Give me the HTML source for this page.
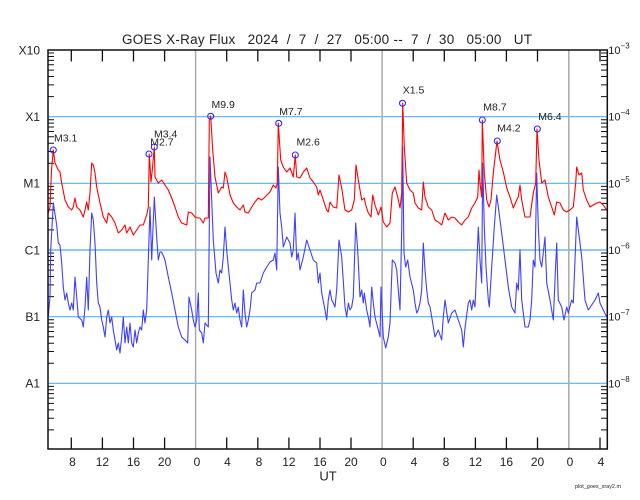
<!DOCTYPE html>
<html><head><meta charset="utf-8"><style>
html,body{margin:0;padding:0;background:#fff;}
svg{display:block;}
text{font-family:"Liberation Sans",sans-serif;fill:#222;}
</style></head><body>
<svg width="640" height="500" viewBox="0 0 640 500" xmlns="http://www.w3.org/2000/svg">
<rect width="640" height="500" fill="#fff"/>
<!-- title -->
<text x="122" y="44" font-size="13.5" xml:space="preserve" textLength="410" lengthAdjust="spacing">GOES X-Ray Flux   2024  /  7  /  27   05:00 --  7  /  30   05:00   UT</text>

<!-- gridlines -->
<g stroke="#55b0ff" stroke-width="1.2">
<line x1="48" y1="116.67" x2="607" y2="116.67"/>
<line x1="48" y1="183.33" x2="607" y2="183.33"/>
<line x1="48" y1="316.67" x2="607" y2="316.67"/>
<line x1="48" y1="383.33" x2="607" y2="383.33"/>
</g>
<line x1="48" y1="250" x2="607" y2="250" stroke="#8ec8ff" stroke-width="2"/>
<!-- day lines -->
<g stroke="#aaa" stroke-width="1.5">
<line x1="195.6" y1="50" x2="195.6" y2="449"/>
<line x1="382.1" y1="50" x2="382.1" y2="449"/>
<line x1="568.8" y1="50" x2="568.8" y2="449"/>
</g>

<!-- hour ticks -->
<path stroke="#111" stroke-width="1.3" fill="none" d="
M71.3 50v11.5M102.4 50v11.5M133.5 50v11.5M164.6 50v11.5M226.7 50v11.5M257.8 50v11.5M288.9 50v11.5M320 50v11.5M351 50v11.5M413.2 50v11.5M444.3 50v11.5M475.4 50v11.5M506.4 50v11.5M537.5 50v11.5M600 50v11.5
M71.3 449v-11.5M102.4 449v-11.5M133.5 449v-11.5M164.6 449v-11.5M226.7 449v-11.5M257.8 449v-11.5M288.9 449v-11.5M320 449v-11.5M351 449v-11.5M413.2 449v-11.5M444.3 449v-11.5M475.4 449v-11.5M506.4 449v-11.5M537.5 449v-11.5M600 449v-11.5"/>

<!-- log ticks left -->
<path stroke="#111" stroke-width="1" fill="none" d="
M48 96.6h6M48 84.86h6M48 76.53h6M48 70.07h6M48 64.79h6M48 60.33h6M48 56.46h6M48 53.05h6
M48 163.26h6M48 151.52h6M48 143.19h6M48 136.73h6M48 131.45h6M48 126.99h6M48 123.12h6M48 119.71h6
M48 229.93h6M48 218.19h6M48 209.86h6M48 203.4h6M48 198.12h6M48 193.66h6M48 189.79h6M48 186.38h6
M48 296.6h6M48 284.86h6M48 276.53h6M48 270.07h6M48 264.79h6M48 260.33h6M48 256.46h6M48 253.05h6
M48 363.26h6M48 351.52h6M48 343.19h6M48 336.73h6M48 331.45h6M48 326.99h6M48 323.12h6M48 319.71h6
M48 429.93h6M48 418.19h6M48 409.86h6M48 403.4h6M48 398.12h6M48 393.66h6M48 389.79h6M48 386.38h6
M607 96.6h-6M607 84.86h-6M607 76.53h-6M607 70.07h-6M607 64.79h-6M607 60.33h-6M607 56.46h-6M607 53.05h-6
M607 163.26h-6M607 151.52h-6M607 143.19h-6M607 136.73h-6M607 131.45h-6M607 126.99h-6M607 123.12h-6M607 119.71h-6
M607 229.93h-6M607 218.19h-6M607 209.86h-6M607 203.4h-6M607 198.12h-6M607 193.66h-6M607 189.79h-6M607 186.38h-6
M607 296.6h-6M607 284.86h-6M607 276.53h-6M607 270.07h-6M607 264.79h-6M607 260.33h-6M607 256.46h-6M607 253.05h-6
M607 363.26h-6M607 351.52h-6M607 343.19h-6M607 336.73h-6M607 331.45h-6M607 326.99h-6M607 323.12h-6M607 319.71h-6
M607 429.93h-6M607 418.19h-6M607 409.86h-6M607 403.4h-6M607 398.12h-6M607 393.66h-6M607 389.79h-6M607 386.38h-6"/>

<!-- blue (short) -->
<polyline fill="none" stroke="#3f3fff" stroke-width="1.1" stroke-linejoin="round" points="
48.3,316 50,297 50.7,250 53.3,203 56.7,225 58.3,243 60,245 61.7,263 63.3,287 65,300 66.7,293 68.3,303 70,310 71.7,303 73.3,310 75,277 76.7,297 78.3,317 81.7,320 83.3,327 85,307 86.7,277 88.3,310 90,250 91.7,213 93.3,220 95,243 96.7,283 98.3,303 100,307 101.7,320 103.3,327 105,337 106.7,317 108.3,310 110,323 111.7,317 113.3,330 115,340 116.7,350 118.3,343 120,353 121.7,337 123.3,317 125,343 126.7,327 128.3,343 130,323 131.7,343 133.3,347 135,330 136.7,343 138.3,333 140,327 141.7,330 143.3,310 145,323 146.7,310 148.3,260 150,207 151.7,260 154.3,197 156.7,237 158.3,260 160,252 161.7,252 165,260 168.3,277 171.7,293 175,310 178.3,327 181.7,337 185,340 187.7,343 189,297 191.7,310 193.3,320 195,327 196.7,320 198.3,293 199.3,330 201.7,333 203.3,343 205,323 208.3,327 210,157 211.7,200 213.3,240 216,273 218.3,283 220,270 221.7,273 223.3,257 225,227 226.7,250 228.3,267 230,283 231.7,300 233.3,310 235,303 236.7,313 238.3,307 240,320 241.7,327 243.3,290 245,313 246.7,327 248.3,320 250,310 251.7,293 255,290 256.7,283 260,283 263.3,273 266.7,267 270,262 273.3,260 275,253 276.7,270 278.3,167 280,213 281.7,227 283.3,247 286.7,237 290,243 291.7,257 293.3,250 295,213 296.7,260 298.3,253 300,270 303.3,257 306.7,240 310,250 313.3,260 316.7,263 318.3,283 320,273 321.7,293 325,310 326.7,320 328.3,300 330,290 331.7,300 333.3,303 335,307 336.7,290 339,240 341.7,257 345,307 346.7,317 348.3,303 350,310 351.7,307 353.3,297 355.7,223 357.7,250 360,297 361.7,290 363.3,303 364.3,293 366.7,310 368.3,317 370,327 371.7,287 373.3,303 375,317 378.3,330 380,337 381,287 383.3,337 385.7,348 388.3,337 390,323 392.3,260 395,263 396.7,270 398.3,290 400,310 401.7,230 402.7,147 404,253 405.7,267 407.7,260 410,277 413.3,290 415,303 416.7,313 418.3,310 420,303 421.7,290 423.3,243 425,270 426.7,290 428.3,303 430,307 431.7,317 435,337 438.3,330 441.7,340 443.3,317 445,300 448.3,323 451.7,313 455,310 458.3,320 461.7,330 463.3,347 465,328 468.3,303 470,300 471.7,310 473.3,300 475,307 476.7,267 478.3,227 480,260 481.7,283 482.7,163 484.3,227 486,267 488.3,300 489.3,307 491.7,267 494.3,227 496.7,195 498.3,207 501.7,233 505,260 508.3,287 511.7,307 515,313 516.7,283 518.3,290 520,250 521.7,300 525,327 528.3,327 530,320 531.7,300 533.3,260 535,267 536.7,173 538.3,227 540,260 541.7,267 545,237 546.7,283 550,300 553.3,320 555,280 556.7,243 558.3,300 561.7,307 564,320 566.7,307 568.3,313 571.7,300 573.3,303 576.7,217 580,243 581.7,257 585,300 588.3,310 591.7,305 595,300 598.3,293 600,303 603.3,310 606.7,317"/>

<!-- red (long) -->
<polyline fill="none" stroke="#ff0000" stroke-width="1.1" stroke-linejoin="round" points="
48.3,213 50,207 51.5,170 53.3,150 55,163 58.3,170 60,172 61.7,183 65,200 68.3,207 71.7,210 73.3,207 75,198 76.7,207 80,210 83.3,217 85,210 86.7,202 88.3,210 90,193 91.7,163 93.3,165 95,173 96.7,187 100,203 103.3,217 106.7,223 108.3,213 111.7,217 115,223 118.3,233 121.7,230 125,225 126.7,233 130,227 133.3,235 136.7,230 140,225 143.3,225 146.7,215 148.3,207 149.3,154 151,182 152.3,170 154.3,147 155,177 158.3,183 161.7,180 165,185 168.3,190 171.7,198 175,207 178.3,217 181.7,223 186.7,225 188.3,212 191.7,213 195,217 198.3,218 200,218 203.3,223 205,218 208.3,218 209.3,120 210.7,116 212.7,150 215,177 218.3,193 221.7,187 223.3,188 225,172 226.7,177 230,195 233.3,203 236.7,207 240,210 243.3,205 245,212 248.3,213 251.7,207 255,202 258.3,198 261.7,200 265,197 270,192 273.3,185 276,188 277.3,183 278.3,123 280.7,160 283.3,167 286.7,172 290,168 293.3,177 295.3,155 296.7,177 300,178 303.3,172 306.7,168 310,178 313.3,182 316.7,187 318.3,195 320,190 323.3,200 326.7,210 328.3,212 330,202 333.3,207 336.7,208 339,175 341.7,188 345,210 348.3,212 351.7,210 354.3,200 356,165 358.3,180 361.7,200 364.3,198 365.7,205 368.3,213 371,217 372.7,195 375,205 378.3,215 381,207 383.3,222 386.7,227 390,223 392.3,193 395,187 397.7,197 400,208 401.7,193 402.7,103 404.3,147 406.7,183 410,190 413.3,193 415,203 418.3,208 421.7,210 423.3,182 425,197 428.3,207 431.7,210 435,220 438.3,222 441.7,225 445,213 448.3,220 451.7,217 455,218 458.3,222 461.7,225 465,220 468.3,217 471.7,208 475,203 477.7,197 479,170 480,183 481.7,197 482.3,120 484.3,173 486.7,200 489,207 491,200 493.3,173 497,141 500,160 503.3,172 506.7,188 510,197 513.3,208 516.7,200 518.3,197 520,185 521.7,200 525,217 530,217 533.3,193 535.7,183 537,129 539,160 541.7,183 545,180 548.3,197 551.7,207 554.3,215 556.7,202 560,203 563.3,210 566.7,212 570,210 573.3,207 575.7,183 576.7,167 579,175 581.7,173 583.3,190 586.7,200 590,207 593.3,205 596.7,203 600,202 603.3,205 606.7,210"/>

<!-- flare markers -->
<g fill="none" stroke="#2a2aff" stroke-width="1.1">
<circle cx="53.3" cy="150" r="3"/>
<circle cx="149" cy="154" r="3"/>
<circle cx="154.3" cy="147" r="3"/>
<circle cx="210.7" cy="116.3" r="3"/>
<circle cx="278.7" cy="123.3" r="3"/>
<circle cx="295.3" cy="155" r="3"/>
<circle cx="402.5" cy="103.3" r="3"/>
<circle cx="482.3" cy="120" r="3"/>
<circle cx="497.3" cy="141" r="3"/>
<circle cx="537.3" cy="129" r="3"/>
</g>
<g font-size="10.5">
<text x="54" y="141.5">M3.1</text>
<text x="154" y="137.7">M3.4</text>
<text x="150.3" y="145.3">M2.7</text>
<text x="211.5" y="108">M9.9</text>
<text x="279.3" y="115">M7.7</text>
<text x="296.5" y="145.7">M2.6</text>
<text x="402.7" y="93.3">X1.5</text>
<text x="483.3" y="110.7">M8.7</text>
<text x="497.3" y="131.7">M4.2</text>
<text x="538.3" y="120">M6.4</text>
</g>

<!-- frame -->
<rect x="48" y="50" width="559.3" height="399" fill="none" stroke="#111" stroke-width="1.5"/>

<!-- left labels -->
<g font-size="12" text-anchor="end">
<text x="40" y="54.5">X10</text>
<text x="40" y="121">X1</text>
<text x="40" y="187.7">M1</text>
<text x="40" y="254.3">C1</text>
<text x="40" y="321">B1</text>
<text x="40" y="387.7">A1</text>
</g>
<!-- right labels -->
<g font-size="11">
<text x="608.3" y="54">10<tspan font-size="8" dy="-5.5">−3</tspan></text>
<text x="608.3" y="120.7">10<tspan font-size="8" dy="-5.5">−4</tspan></text>
<text x="608.3" y="187.3">10<tspan font-size="8" dy="-5.5">−5</tspan></text>
<text x="608.3" y="254">10<tspan font-size="8" dy="-5.5">−6</tspan></text>
<text x="608.3" y="320.7">10<tspan font-size="8" dy="-5.5">−7</tspan></text>
<text x="608.3" y="387.3">10<tspan font-size="8" dy="-5.5">−8</tspan></text>
</g>

<!-- x labels -->
<g font-size="12" text-anchor="middle">
<text x="72.5" y="466">8</text>
<text x="102.4" y="466">12</text>
<text x="133.5" y="466">16</text>
<text x="164.6" y="466">20</text>
<text x="197" y="466">0</text>
<text x="227.5" y="466">4</text>
<text x="259" y="466">8</text>
<text x="288.9" y="466">12</text>
<text x="320" y="466">16</text>
<text x="351" y="466">20</text>
<text x="383.3" y="466">0</text>
<text x="414" y="466">4</text>
<text x="446" y="466">8</text>
<text x="475.4" y="466">12</text>
<text x="506.4" y="466">16</text>
<text x="537.5" y="466">20</text>
<text x="570" y="466">0</text>
<text x="601" y="466">4</text>
</g>
<text x="328" y="480.5" font-size="13" text-anchor="middle">UT</text>
<text x="575" y="488" font-size="5" fill="#444" textLength="46" lengthAdjust="spacingAndGlyphs">plot_goes_xray2.m</text>
</svg>
</body></html>
